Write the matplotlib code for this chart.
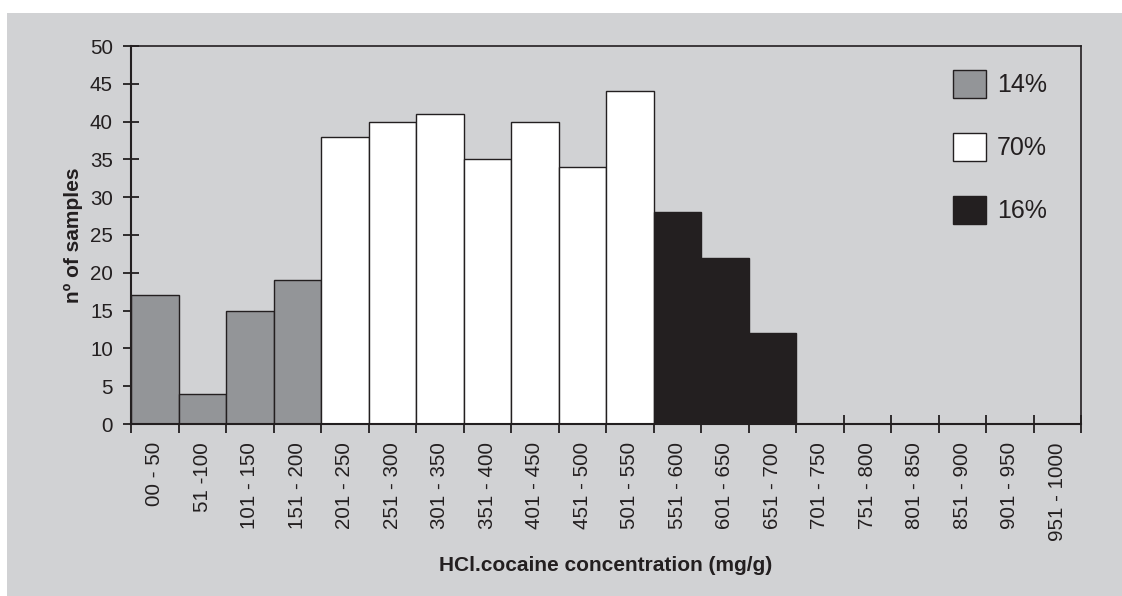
import matplotlib.pyplot as plt
import numpy as np
from matplotlib.patches import Patch, Rectangle

plt.rcParams["font.family"] = ["Liberation Sans", "DejaVu Sans"]

# data
categories = ["00 - 50", "51 -100", "101 - 150", "151 - 200", "201 - 250", "251 - 300",
              "301 - 350", "351 - 400", "401 - 450", "451 - 500", "501 - 550", "551 - 600",
              "601 - 650", "651 - 700", "701 - 750", "751 - 800", "801 - 850", "851 - 900",
              "901 - 950", "951 - 1000"]
counts = [17, 4, 15, 19, 38, 40, 41, 35, 40, 34, 44, 28, 22, 12, 0, 0, 0, 0, 0, 0]
groups = [0] * 4 + [1] * 7 + [2] * 9
group_labels = ["14%", "70%", "16%"]

BG = "#d1d2d4"
INK = "#231f20"
group_colors = ["#939598", "#ffffff", "#231f20"]

fig = plt.figure(figsize=(11.22, 5.96), dpi=100)
fig.patch.set_facecolor("white")
fig.patches.append(Rectangle((7 / 1122, 0), 1 - 7 / 1122, 1 - 13 / 596,
                             transform=fig.transFigure, facecolor=BG, edgecolor="none", zorder=-5))

ax = fig.add_axes([131 / 1122, 1 - 424 / 596, (1081 - 131) / 1122, (424 - 46) / 596])
ax.set_facecolor(BG)

x = np.arange(len(categories))
colors = [group_colors[g] for g in groups]
ax.bar(x, counts, width=1.0, color=colors, edgecolor=INK, linewidth=1.0, zorder=2)

ax.set_xlim(-0.5, len(categories) - 0.5)
ax.set_ylim(0, 50)
ax.set_yticks(range(0, 51, 5))
ax.set_xticks(x)
ax.set_xticklabels(categories, rotation=90, fontsize=14.8, color=INK)
ax.set_xticks(np.arange(-0.5, len(categories)), minor=True)
ax.tick_params(axis="x", which="major", length=0, pad=13)
ax.tick_params(axis="x", which="minor", direction="inout", length=13, width=1.3, color=INK)
ax.tick_params(axis="y", direction="inout", length=12, width=1.3, color=INK,
               labelsize=14.8, labelcolor=INK, pad=7)

for side in ["left", "right", "top", "bottom"]:
    ax.spines[side].set_color(INK)
    ax.spines[side].set_linewidth(1.5)
ax.spines["top"].set_linewidth(1.2)
ax.spines["right"].set_linewidth(1.2)

ax.set_xlabel("HCl.cocaine concentration (mg/g)", fontsize=15, fontweight="bold",
              color=INK, labelpad=11)
ax.set_ylabel("nº of samples", fontsize=15, fontweight="bold", color=INK, labelpad=5)

handles = [Patch(facecolor=c, edgecolor=INK, linewidth=1.0) for c in group_colors]
ax.legend(handles, group_labels, loc="upper left",
          bbox_to_anchor=(953 / 1122, 1 - 70 / 596), bbox_transform=fig.transFigure,
          frameon=False, fontsize=18, handlelength=1.32, handleheight=1.32,
          handletextpad=0.45, labelspacing=1.42, borderpad=0, borderaxespad=0,
          labelcolor=INK)

fig.savefig("out.png", dpi=100, facecolor=fig.get_facecolor())
